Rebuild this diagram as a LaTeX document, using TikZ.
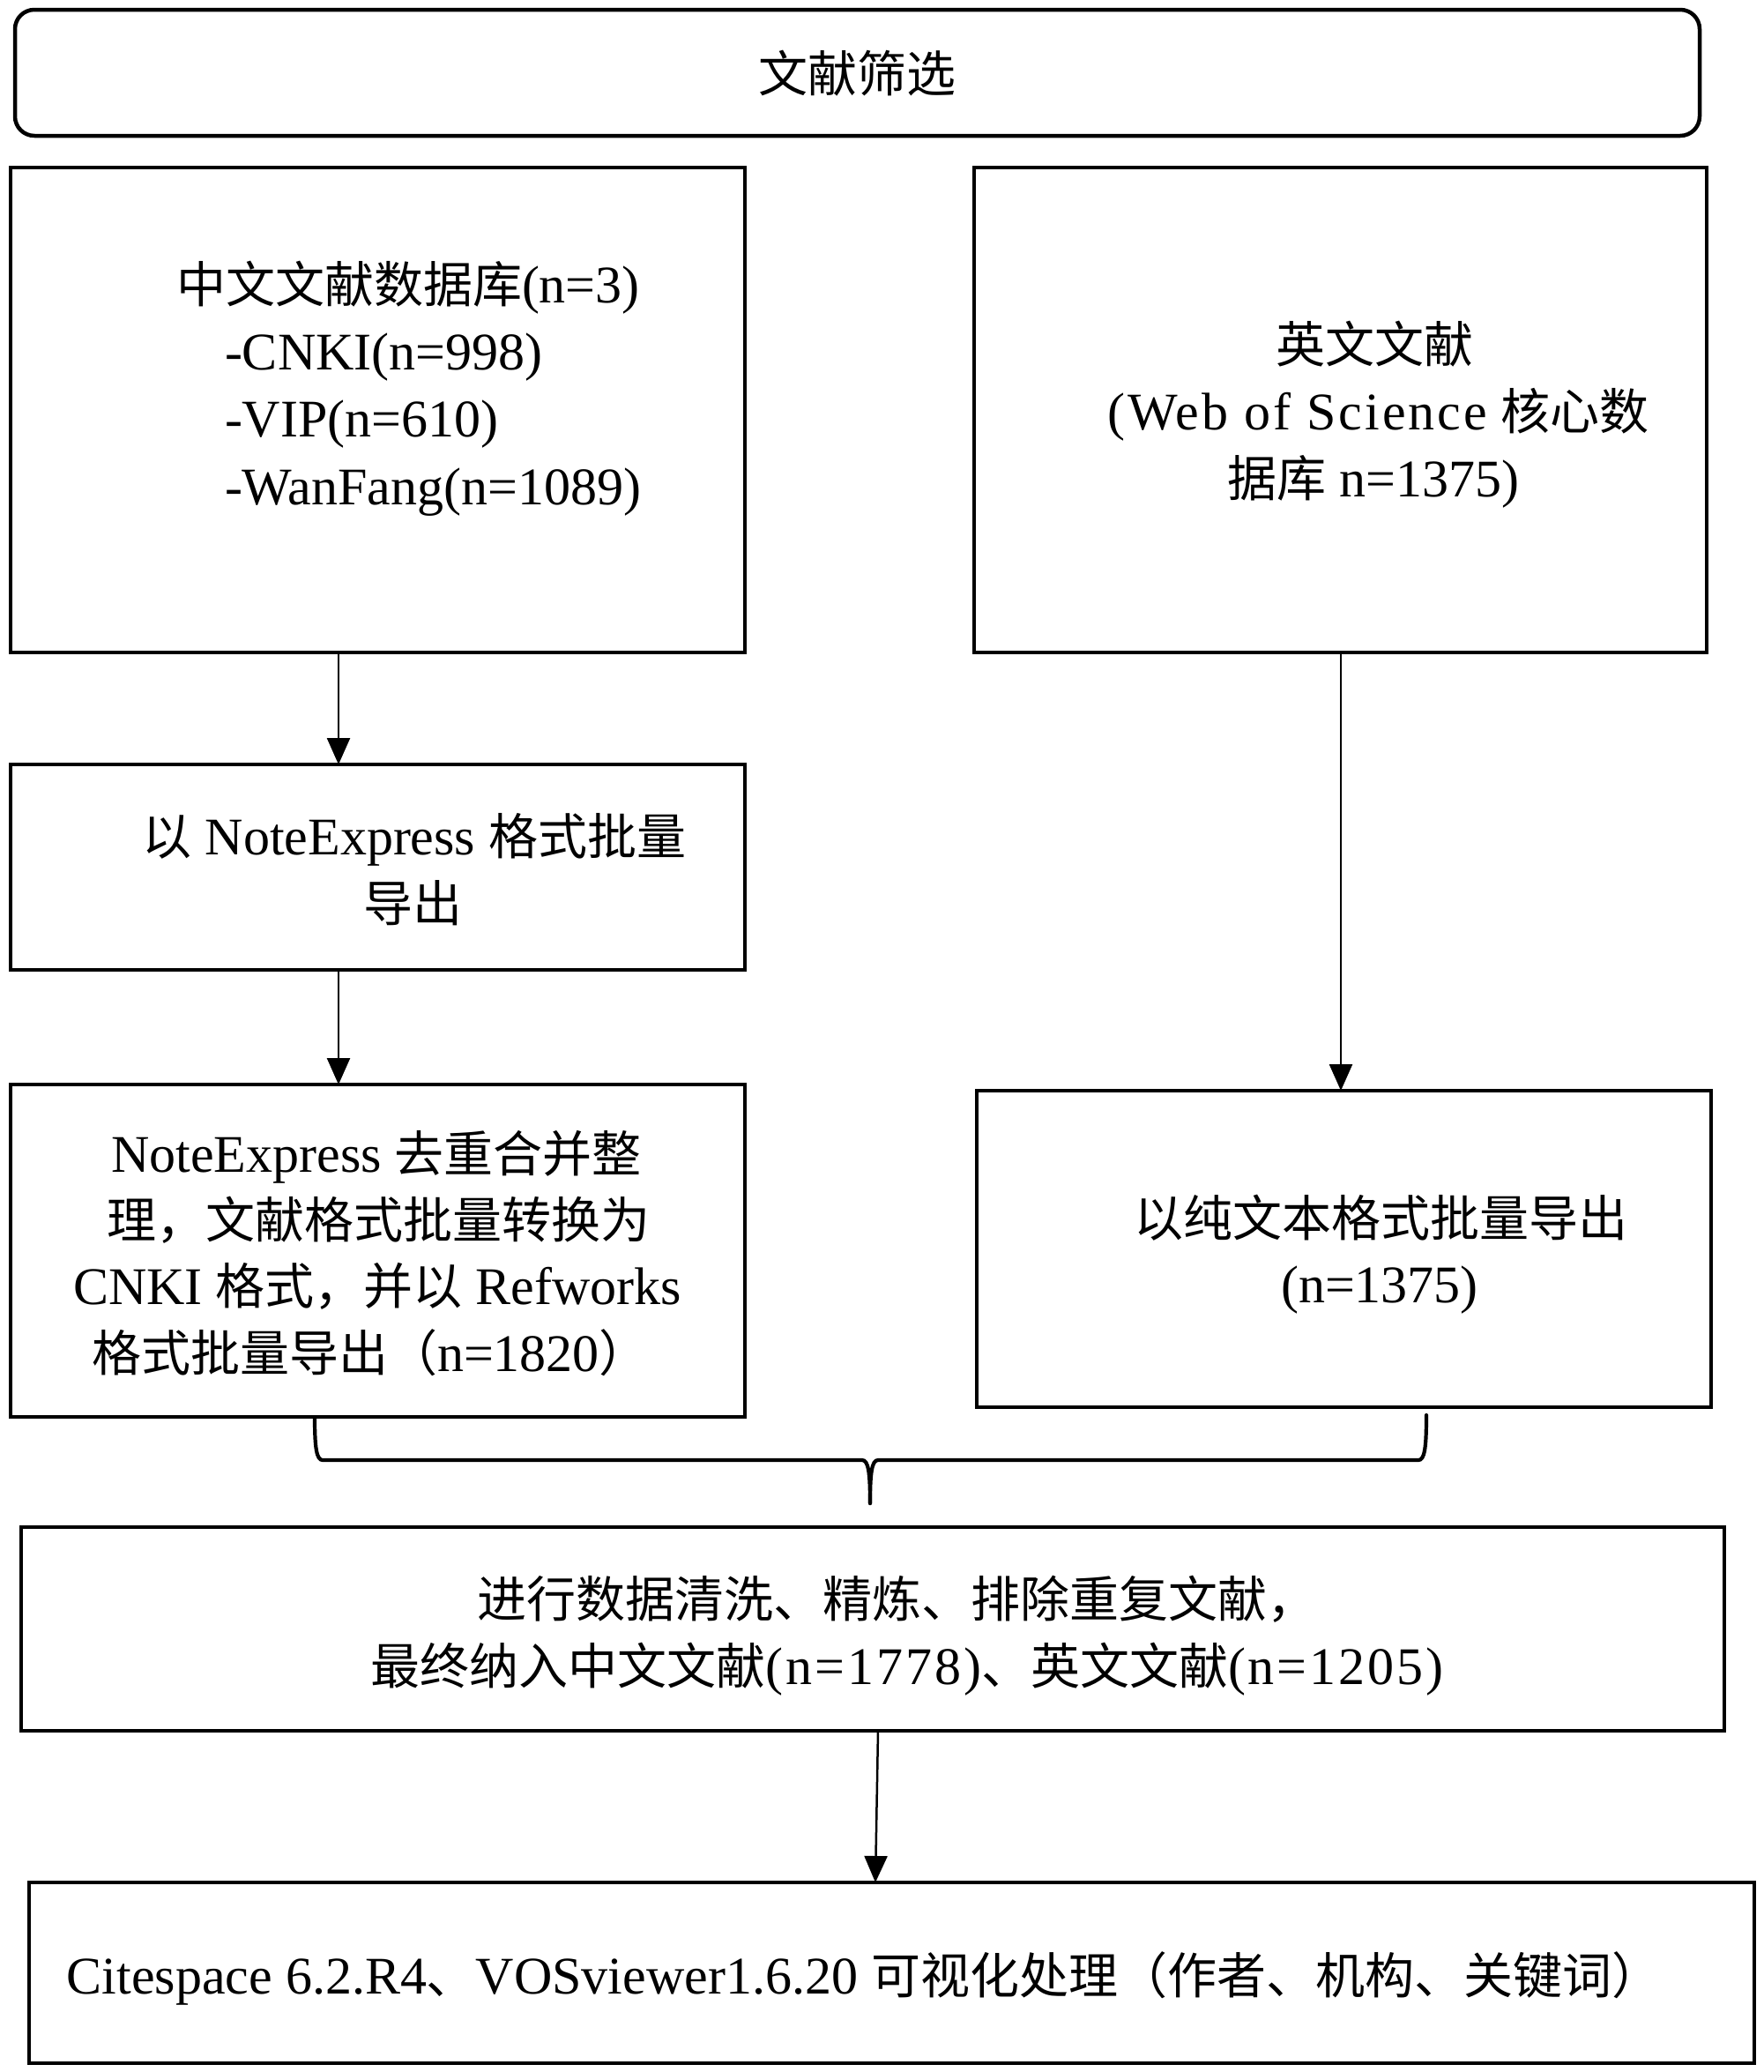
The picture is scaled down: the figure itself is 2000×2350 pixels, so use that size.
\documentclass[tikz,border=0pt]{standalone}
\usepackage{fontspec}
\setmainfont{Liberation Serif}
\newfontfamily\zhfont{Noto Sans CJK SC}
\usetikzlibrary{arrows.meta,calc}
\newcommand\zht[1]{{\zhfont\fontsize{56}{76}\selectfont #1}}
\newcommand\wideltr[1]{{\addfontfeature{LetterSpace=5}#1}}
\tikzset{
  box/.style={draw=black, line width=4.5pt, outer sep=0pt, inner sep=0pt, fill=white},
  txt/.style={font=\fontsize{60}{76}\selectfont, inner sep=0pt, outer sep=0pt, text=black},
  arr/.style={line width=2.5pt, -{Triangle[length=30pt,width=26pt]}},
  brace/.style={line width=4.2pt, line cap=round}
}
\begin{document}
\begin{tikzpicture}[x=1pt,y=-1pt]
\useasboundingbox[fill=white] (0,0) rectangle (2000,2350);
% boxes
\node[box, rounded corners=22pt, minimum width=1911pt, minimum height=143pt] (T) at (972.5,82.5) {};
\node[box, minimum width=833pt, minimum height=550pt] (A) at (428.5,465) {};
\node[box, minimum width=831pt, minimum height=550pt] (B) at (1520.5,465) {};
\node[box, minimum width=833pt, minimum height=233pt] (C) at (428.5,983.5) {};
\node[box, minimum width=833pt, minimum height=377pt] (D) at (428.5,1418.5) {};
\node[box, minimum width=833pt, minimum height=359pt] (E) at (1524.5,1416.5) {};
\node[box, minimum width=1932pt, minimum height=231pt] (F) at (990,1847.5) {};
\node[box, minimum width=1957pt, minimum height=205pt] (G) at (1011.5,2237.5) {};
% texts
\node[txt, anchor=base] (t0) at (972,104) {\zht{文献筛选}};
\node[txt, anchor=base west] (tA1) at (200,343) {\zht{中文文献数据库}(n=3)};
\node[txt, anchor=base west] (tA2) at (255,419) {-CNKI(n=998)};
\node[txt, anchor=base west] (tA3) at (255,495) {-VIP(n=610)};
\node[txt, anchor=base west] (tA4) at (255,572) {-WanFang(n=1089)};
\node[txt, anchor=base] (tB1) at (1559,411) {\zht{英文文献}};
\node[txt, anchor=base] (tB2) at (1563,487) {\wideltr{(Web of Science} \zht{核心数}};
\node[txt, anchor=base] (tB3) at (1558,563) {\zht{据库} n=1375)};
\node[txt, anchor=base] (tC1) at (470,969) {\zht{以} NoteExpress \zht{格式批量}};
\node[txt, anchor=base] (tC2) at (468,1045) {\zht{导出}};
\node[txt, anchor=base] (tD1) at (427,1329) {NoteExpress \zht{去重合并整}};
\node[txt, anchor=base] (tD2) at (429,1404) {\zht{理，文献格式批量转换为}};
\node[txt, anchor=base] (tD3) at (428,1479) {CNKI \zht{格式，并以} Refworks};
\node[txt, anchor=base] (tD4) at (420,1555) {\zht{格式批量导出（}n=1820\zht{）}};
\node[txt, anchor=base] (tE1) at (1566,1402) {\zht{以纯文本格式批量导出}};
\node[txt, anchor=base] (tE2) at (1565,1477) {(n=1375)};
\node[txt, anchor=base] (tF1) at (1017,1834) {\zht{进行数据清洗、精炼、排除重复文献，}};
\node[txt, anchor=base] (tF2) at (1029,1910) {\zht{最终纳入中文文献}\wideltr{(n=1778)}\zht{、英文文献}\wideltr{(n=1205)}};
\node[txt, anchor=base] (tG1) at (980,2261) {Citespace 6.2.R4\zht{、}VOSviewer1.6.20 \zht{可视化处理（作者、机构、关键词）}};
% connectors
\draw[arr] ($(A.south west)+(372,0)$) -- ($(C.north west)+(372,0)$);
\draw[arr] ($(C.south west)+(372,0)$) -- ($(D.north west)+(372,0)$);
\draw[arr] ($(B.south west)+(416,0)$) -- ($(E.north west)+(413,0)$);
\draw[arr] ($(F.south west)+(972,0)$) -- ($(G.north west)+(960,0)$);
% brace
\coordinate (bl) at ($(D.south west)+(345,0)$);
\coordinate (br) at ($(E.south west)+(510,9)$);
\coordinate (bt) at ($(F.north)+(-3,-27)$);
\draw[brace] (bl) .. controls ($(bl)+(0,35)$) and ($(bl)+(2,49)$) .. ($(bl)+(9,49)$) -- ($(bt)+(-9,-49)$) .. controls ($(bt)+(-2,-49)$) and ($(bt)+(0,-35)$) .. (bt);
\draw[brace] (br) .. controls ($(br)+(0,37)$) and ($(br)+(-2,51)$) .. ($(br)+(-9,51)$) -- ($(bt)+(9,-49)$) .. controls ($(bt)+(2,-49)$) and ($(bt)+(0,-35)$) .. (bt);
\end{tikzpicture}
\end{document}
